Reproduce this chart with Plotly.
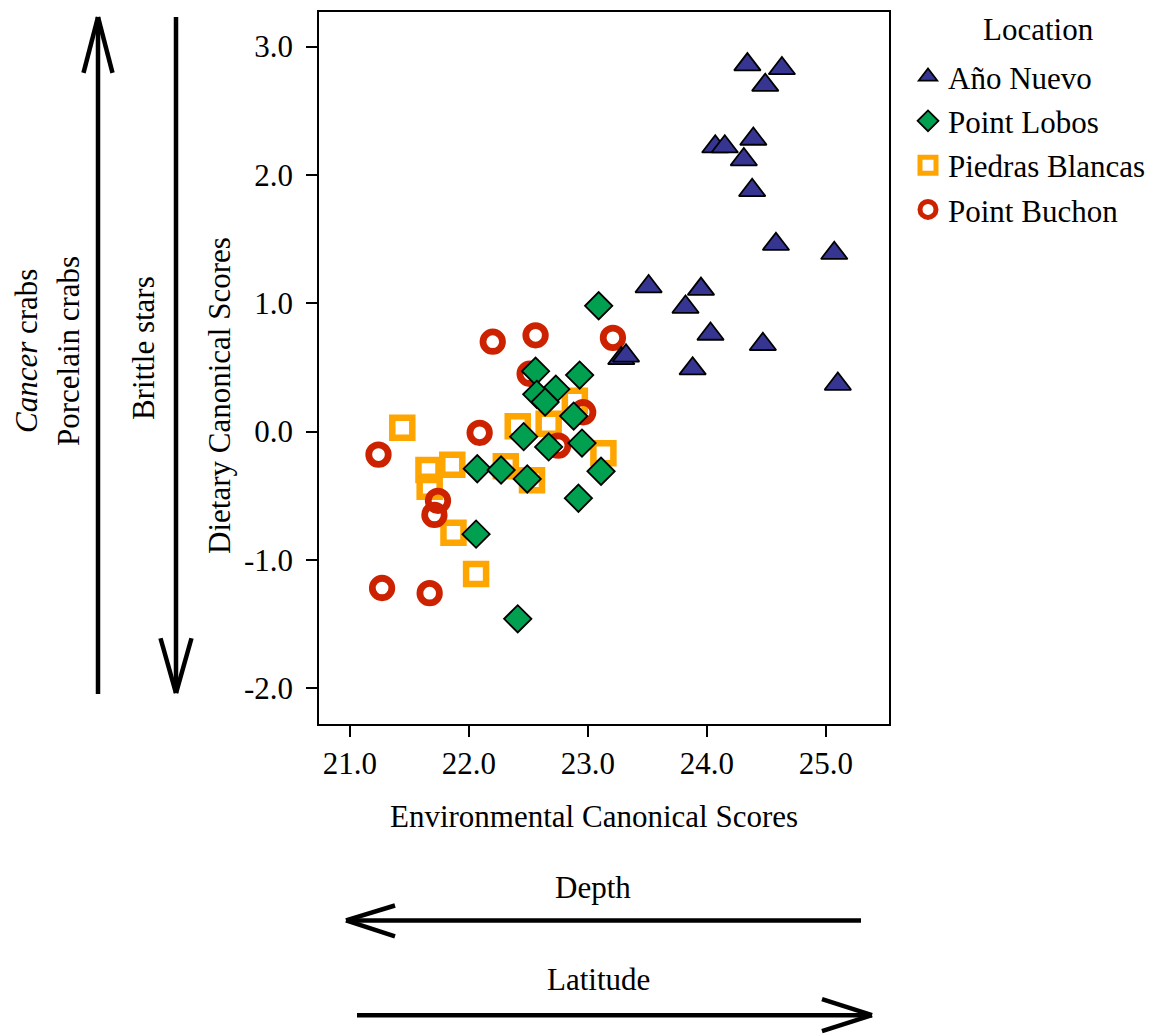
import plotly.graph_objects as go

# ---------------- data ----------------
ano_nuevo_x = [24.34, 24.63, 24.49, 24.07, 24.15, 24.39, 24.31, 24.38, 24.58, 25.07,
               23.51, 23.95, 23.82, 24.03, 24.47, 23.28, 23.32, 23.88, 25.10]
ano_nuevo_y = [2.86, 2.83, 2.70, 2.22, 2.22, 2.28, 2.12, 1.88, 1.46, 1.39,
               1.13, 1.11, 0.97, 0.76, 0.68, 0.57, 0.59, 0.49, 0.37]

point_lobos_x = [23.09, 22.56, 22.93, 22.73, 22.57, 22.64, 22.88, 22.46, 22.67, 22.95,
                 22.07, 22.27, 22.49, 23.11, 22.92, 22.06, 22.41]
point_lobos_y = [0.98, 0.47, 0.44, 0.33, 0.29, 0.23, 0.12, -0.04, -0.12, -0.09,
                 -0.29, -0.30, -0.37, -0.31, -0.52, -0.80, -1.46]

piedras_x = [21.44, 21.66, 21.86, 21.67, 21.87, 22.06, 22.41, 22.67, 22.89, 22.31, 22.53, 23.13]
piedras_y = [0.03, -0.30, -0.26, -0.43, -0.79, -1.11, 0.04, 0.06, 0.24, -0.27, -0.38, -0.17]

buchon_x = [22.20, 22.56, 23.21, 22.51, 22.96, 22.09, 22.75, 21.24, 21.74, 21.71, 21.27, 21.67]
buchon_y = [0.70, 0.75, 0.73, 0.45, 0.15, -0.01, -0.11, -0.18, -0.54, -0.65, -1.22, -1.26]

x_ticks = [21.0, 22.0, 23.0, 24.0, 25.0]
y_ticks = [3.0, 2.0, 1.0, 0.0, -1.0, -2.0]

FONT = "Liberation Serif, Times New Roman, serif"
FS = 31

# figure geometry (pixels); page body adds an 8 px offset
OFF = 8
W, H = 1168 - OFF, 1034 - OFF
ML, MT = 319 - OFF, 10 - OFF
PW, PH = 570, 714
MR, MB = W - ML - PW, H - MT - PH


def px(x):
    return (x - OFF - ML) / PW


def py(y):
    return (MT + PH - (y - OFF)) / PH


fig = go.Figure()

fig.add_trace(go.Scatter(
    x=piedras_x, y=piedras_y, mode="markers", name="Piedras Blancas",
    legendrank=3, legendgroup="c",
    marker=dict(symbol="square-open", size=20, color="#FFA500",
                line=dict(width=6.5, color="#FFA500"))))
fig.add_trace(go.Scatter(
    x=buchon_x, y=buchon_y, mode="markers", name="Point Buchon",
    legendrank=4, legendgroup="d",
    marker=dict(symbol="circle-open", size=19.5, color="#CC2200",
                line=dict(width=6.8, color="#CC2200"))))
fig.add_trace(go.Scatter(
    x=point_lobos_x, y=point_lobos_y, mode="markers", name="Point Lobos",
    legendrank=2, legendgroup="b",
    marker=dict(symbol="diamond", size=21, color="#00A050",
                line=dict(width=1.8, color="black"))))
fig.add_trace(go.Scatter(
    x=ano_nuevo_x, y=ano_nuevo_y, mode="markers", name="Año Nuevo",
    legendrank=1, legendgroup="a",
    marker=dict(symbol="triangle-up", size=23, color="#363692",
                line=dict(width=1.8, color="black"))))

shapes = []


def seg(x0, y0, x1, y1, w=4.5):
    shapes.append(dict(type="line", xref="paper", yref="paper",
                       x0=px(x0), y0=py(y0), x1=px(x1), y1=py(y1),
                       line=dict(color="black", width=w)))


# vertical arrow up (Cancer / Porcelain crabs)
seg(98, 694, 98, 15)
seg(98, 15, 83.5, 71)
seg(98, 15, 112.5, 71)
# vertical arrow down (Brittle stars)
seg(176, 15, 176, 693)
seg(176, 693, 160.5, 638)
seg(176, 693, 191.5, 638)
# Depth arrow (left)
seg(861, 921, 346, 921)
seg(346, 921, 395, 906)
seg(346, 921, 395, 937)
# Latitude arrow (right)
seg(357, 1016, 872, 1016)
seg(872, 1016, 822, 1000)
seg(872, 1016, 822, 1032)

ann = []


def text(x, y, t, angle=0):
    ann.append(dict(x=px(x), y=py(y), xref="paper", yref="paper", text=t,
                    showarrow=False, textangle=angle, xanchor="center", yanchor="middle",
                    font=dict(family=FONT, size=FS, color="black")))


text(594, 817, "Environmental Canonical Scores")
text(220, 395, "Dietary Canonical Scores", -90)
text(26, 350, "<i>Cancer</i> crabs", -90)
text(68, 350, "Porcelain crabs", -90)
text(143, 347, "Brittle stars", -90)
text(593, 888, "Depth")
text(598, 980, "Latitude")
text(1038, 28, "Location")

axis_common = dict(showline=True, linecolor="black", linewidth=1.5, mirror=True,
                   ticks="outside", ticklen=11, tickwidth=2, tickcolor="black",
                   showgrid=False, zeroline=False,
                   tickfont=dict(family=FONT, size=FS, color="black"))

fig.update_layout(
    width=W, height=H,
    margin=dict(l=ML, r=MR, t=MT, b=MB),
    paper_bgcolor="white", plot_bgcolor="white",
    font=dict(family=FONT, size=FS, color="black"),
    shapes=shapes, annotations=ann,
    xaxis=dict(range=[20.74, 25.53], tickvals=x_ticks,
               ticktext=[f"{v:.1f}" for v in x_ticks], ticklabelstandoff=0,
               **axis_common),
    yaxis=dict(range=[-2.28, 3.27], tickvals=y_ticks,
               ticktext=[f"{v:.1f}" for v in y_ticks], ticklabelstandoff=7,
               **axis_common),
    legend=dict(x=px(908), y=py(48), xanchor="left", yanchor="top",
                traceorder="grouped", tracegroupgap=1,
                font=dict(family=FONT, size=FS, color="black"),
                bgcolor="rgba(0,0,0,0)"),
)

fig.write_html("out.html")
